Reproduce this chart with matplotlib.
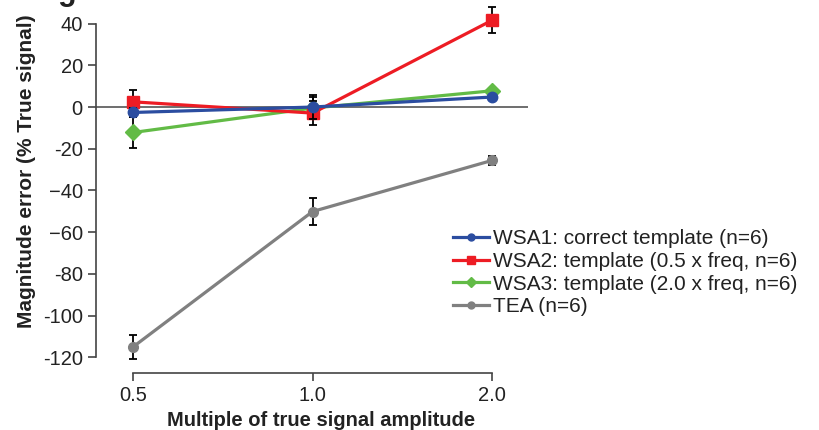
import matplotlib.pyplot as plt
import matplotlib.ticker as mtick
from matplotlib.lines import Line2D

plt.rcParams['font.family'] = ['Liberation Sans', 'DejaVu Sans']

amplitude = [0.5, 1.0, 2.0]

wsa1 = [-2.6, 0.0, 4.8]
wsa1_err = [2.0, 5.8, 1.2]
wsa2 = [2.5, -2.9, 41.6]
wsa2_err = [5.6, 5.6, 6.3]
wsa3 = [-12.2, -0.5, 7.8]
wsa3_err = [7.4, 5.4, 1.2]
tea = [-115.0, -50.1, -25.6]
tea_err = [5.7, 6.5, 2.0]

labels = ['WSA1: correct template (n=6)',
          'WSA2: template (0.5 x freq, n=6)',
          'WSA3: template (2.0 x freq, n=6)',
          'TEA (n=6)']

y_ticks = [40, 20, 0, -20, -40, -60, -80, -100, -120]
y_tick_labels = ['40', '20', '0', '-20', '\u221240', '\u221260', '-80', '-100', '-120']

colors = {'wsa1': '#2B4DA0', 'wsa2': '#ED1C24', 'wsa3': '#62BB46', 'tea': '#808080'}

fig = plt.figure(figsize=(8.2, 4.3), dpi=100)
ax = fig.add_axes([96/820, 0.1595, 432/820, 0.834])

ax.axhline(0, color='#555555', lw=1.2, zorder=1)

err_kw = dict(ecolor='black', elinewidth=1.3, capsize=3.2, capthick=1.3, lw=2.3, clip_on=False)
ax.errorbar(amplitude, tea, yerr=tea_err, color=colors['tea'], marker='o', ms=7, zorder=2, **err_kw)
ax.errorbar(amplitude, wsa3, yerr=wsa3_err, color=colors['wsa3'], marker='D', ms=8, zorder=3, **err_kw)
ax.errorbar(amplitude, wsa2, yerr=wsa2_err, color=colors['wsa2'], marker='s', ms=8, zorder=4, **err_kw)
ax.errorbar(amplitude, wsa1, yerr=wsa1_err, color=colors['wsa1'], marker='o', ms=7.5, zorder=5, **err_kw)

ax.set_xscale('log')
ax.set_xlim(0.4331, 2.298)
ax.set_ylim(-122, 50)
ax.xaxis.set_major_locator(mtick.FixedLocator(amplitude))
ax.xaxis.set_minor_locator(mtick.NullLocator())
ax.set_xticklabels(['0.5', '1.0', '2.0'])
ax.set_yticks(y_ticks)
ax.set_yticklabels(y_tick_labels)

for side in ['top', 'right']:
    ax.spines[side].set_visible(False)
ax.spines['left'].set_bounds(-120, 40)
ax.spines['bottom'].set_bounds(0.5, 2.0)
ax.spines['bottom'].set_position(('outward', 8))
for side in ['left', 'bottom']:
    ax.spines[side].set_color('#444444')
    ax.spines[side].set_linewidth(1.2)
ax.tick_params(colors='#444444', width=1.2, length=5.5, pad=4, labelsize=14.5, labelcolor='#222222')

ax.set_xlabel('Multiple of true signal amplitude', fontsize=14.5, fontweight='bold', color='#222222')
ax.set_ylabel('Magnitude error (% True signal)', fontsize=15, fontweight='bold', color='#222222')
ax.yaxis.set_label_coords(-0.138, 0.531)
ax.xaxis.set_label_coords(0.52, -0.138)

handles = [
    Line2D([], [], color=colors['wsa1'], lw=2.3, marker='o', ms=5),
    Line2D([], [], color=colors['wsa2'], lw=2.3, marker='s', ms=5.5),
    Line2D([], [], color=colors['wsa3'], lw=2.3, marker='D', ms=5.5),
    Line2D([], [], color=colors['tea'], lw=2.3, marker='o', ms=5),
]
leg = fig.legend(handles, labels, loc='upper left',
                 bbox_to_anchor=(443/820, (430-219)/430), frameon=False,
                 fontsize=15, handlelength=1.7, handletextpad=0.2,
                 labelspacing=0.17, borderpad=0)
for t in leg.get_texts():
    t.set_color('#222222')

fig.text(58/820, 1.0, 'g', fontsize=22, fontweight='bold', va='baseline', color='#222222')

fig.savefig('out.png', dpi=100)
